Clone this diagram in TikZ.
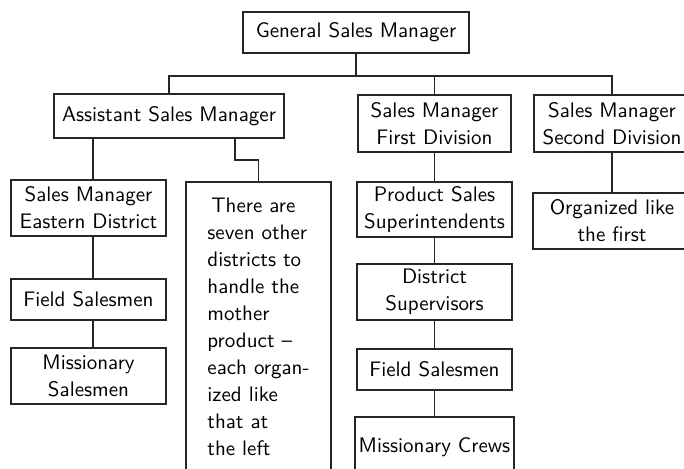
\documentclass[tikz,border=0pt]{standalone}
\usepackage{tikz}
\usetikzlibrary{positioning}
\begin{document}
\begin{tikzpicture}[x=0.5pt,y=-0.5pt]

  \tikzstyle{office}=[rectangle, draw = black!85, line width = 0.9pt, align = center, inner sep = 2pt, font = \sffamily\fontsize{10.5}{13.5}\selectfont]
  \tikzstyle{connect}=[line width = 0.7pt, draw = black!85]

  \clip (0,0) rectangle (684,468);

  \node[office, minimum width = 113pt, minimum height = 20.5pt] (gsm) at (356,32.5) {General Sales Manager};
  \node[office, minimum width = 115pt, minimum height = 22pt] (asm) at (169,116) {Assistant Sales Manager};
  \node[office, minimum width = 76.5pt, minimum height = 28.5pt] (smfd) at (434.5,123.5) {Sales Manager\\First Division};
  \node[office, minimum width = 78pt, minimum height = 28.5pt] (smsd) at (612,123.5) {Sales Manager\\Second Division};

  \node[office, minimum width = 77.5pt, minimum height = 28pt] (smed) at (88.5,208) {Sales Manager\\Eastern District};
  \node[office, minimum width = 77.5pt, minimum height = 20.5pt] (fs1) at (88.5,299.5) {Field Salesmen};
  \node[office, minimum width = 77.5pt, minimum height = 28pt] (ms) at (88.5,376) {Missionary\\Salesmen};

  \node[office, anchor = north, align = left, minimum width = 72.5pt, inner ysep = 8pt] (note) at (258.5,181)
    {\hspace{2pt}There are\\seven other\\districts to\\handle the\\mother\\product --\\each organ-\\ized like\\that at\\the left};

  \node[office, minimum width = 77.5pt, minimum height = 27.5pt] (sps) at (434.5,209.5) {Product Sales\\Superintendents};
  \node[office, minimum width = 77.5pt, minimum height = 28pt] (ds) at (434.5,292) {District\\Supervisors};
  \node[office, minimum width = 77.5pt, minimum height = 20.5pt] (fs2) at (434.5,369.5) {Field Salesmen};
  \node[office, anchor = north, minimum width = 77.5pt, minimum height = 30pt] (mc) at (434.5,416) {Missionary Crews};

  \node[office, minimum width = 79pt, minimum height = 28pt] (olf) at (612,221) {Organized like\\the first};

  % bus below the general manager
  \coordinate (bus) at (0,76);
  \draw[connect] (gsm.south) -- (gsm.south |- bus);
  \draw[connect] (asm.north) -- (asm.north |- bus) -- (smsd.north |- bus) -- (smsd.north);
  \draw[connect] (smfd.north |- bus) -- (smfd.north);

  % assistant manager's side
  \coordinate (lcol) at (93,0);
  \coordinate (jog) at (235,160);
  \draw[connect] (asm.south -| lcol) -- (smed.north -| lcol);
  \draw[connect] (smed.south -| lcol) -- (fs1.north -| lcol);
  \draw[connect] (fs1.south -| lcol) -- (ms.north -| lcol);
  \draw[connect] (asm.south -| jog) -- (jog) -| (note.north);

  % first division
  \path (smfd) edge [connect] (sps)
        (sps) edge [connect] (ds)
        (ds) edge [connect] (fs2)
        (fs2) edge [connect] (mc);

  % second division
  \draw[connect] (smsd.south) -- (olf.north);

\end{tikzpicture}
\end{document}
